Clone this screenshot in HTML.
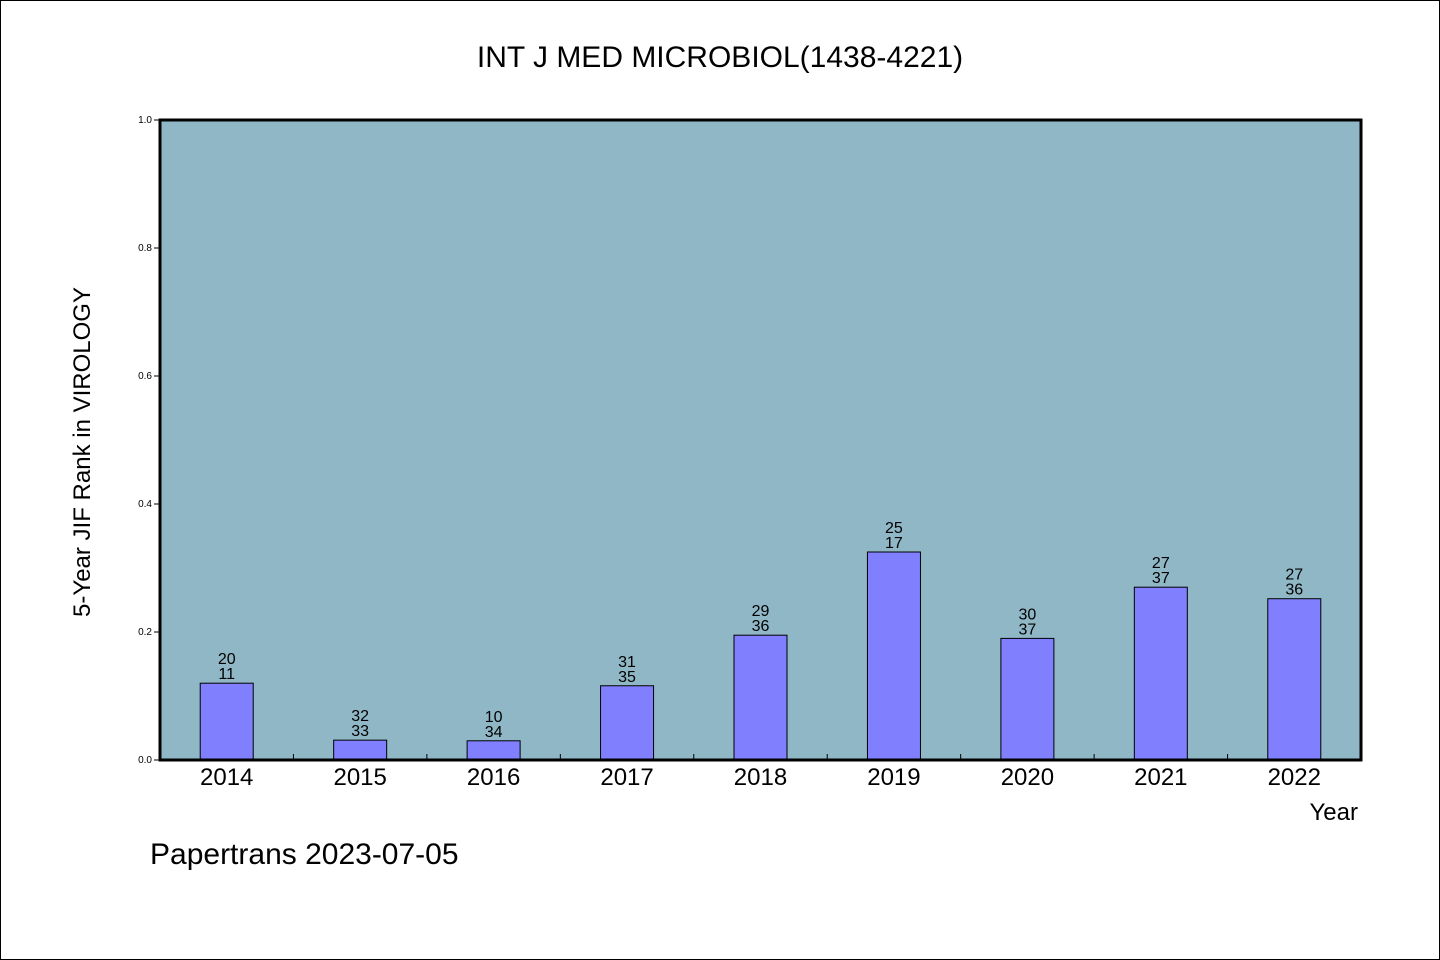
<!DOCTYPE html>
<html><head><meta charset="utf-8"><style>
body{margin:0;background:#fff}
svg{display:block}
text{font-family:"WenQuanYi Zen Hei","Liberation Sans",sans-serif;fill:#000}
</style></head><body>
<svg id="c" width="1440" height="960">
<rect x="0.5" y="0.5" width="1439" height="959" fill="#fff" stroke="#000"/>
<text x="720" y="67" font-size="30" text-anchor="middle">INT J MED MICROBIOL(1438-4221)</text>
<rect x="160" y="120" width="1201" height="640" fill="#8fb7c6"/>
<g id="bars"></g>
<rect x="160" y="120" width="1201" height="640" fill="none" stroke="#000" stroke-width="3"/>
<text transform="translate(90,452) rotate(-90)" font-size="24" text-anchor="middle">5-Year JIF Rank in VIROLOGY</text>
<text x="1358" y="820" font-size="24" text-anchor="end">Year</text>
<text x="150" y="864" font-size="30">Papertrans 2023-07-05</text>
</svg>
<script>
const years=["2014","2015","2016","2017","2018","2019","2020","2021","2022"];
const values=[0.12,0.031,0.03,0.116,0.195,0.325,0.19,0.27,0.252];
const topLabels=["20","32","10","31","29","25","30","27","27"];
const bottomLabels=["11","33","34","35","36","17","37","37","36"];
const yTicks=[0,0.2,0.4,0.6,0.8,1.0];
const NS="http://www.w3.org/2000/svg";
const x0=160,x1=1361,y0=760,y1=120;
const step=(x1-x0)/years.length;
const xc=i=>x0+step*(i+0.5);
const ys=v=>y0-(y0-y1)*v;
const g=document.getElementById('bars');
function mk(t,a){const e=document.createElementNS(NS,t);for(const k in a)e.setAttribute(k,a[k]);return e;}
yTicks.forEach(v=>{
 const l=mk('line',{x1:154,x2:160,y1:ys(v),y2:ys(v),stroke:'#000'});
 
 
 g.appendChild(l);
 const t=mk('text',{x:152,y:ys(v)+3,'font-size':10,'text-anchor':'end'});
 
 
 t.textContent=v.toFixed(1);g.appendChild(t);
});
years.forEach((y,i)=>{
 if(i>0){const tk=mk('line',{x1:x0+step*i,x2:x0+step*i,y1:754,y2:760,stroke:'#000'});
 
 
 g.appendChild(tk);}
 const top=ys(values[i]);
 const r=mk('rect',{x:xc(i)-26.5,y:top,width:53,height:y0-top,fill:'#8080ff',stroke:'#000','stroke-width':1});
 
 
 g.appendChild(r);
 const a=mk('text',{x:xc(i),y:top-19,'font-size':16,'text-anchor':'middle'});
 
 
 a.textContent=topLabels[i];g.appendChild(a);
 const b=mk('text',{x:xc(i),y:top-4,'font-size':16,'text-anchor':'middle'});
 
 
 b.textContent=bottomLabels[i];g.appendChild(b);
 const xl=mk('text',{x:xc(i),y:785,'font-size':24,'text-anchor':'middle'});
 
 
 xl.textContent=y;g.appendChild(xl);
});
</script>
</body></html>
